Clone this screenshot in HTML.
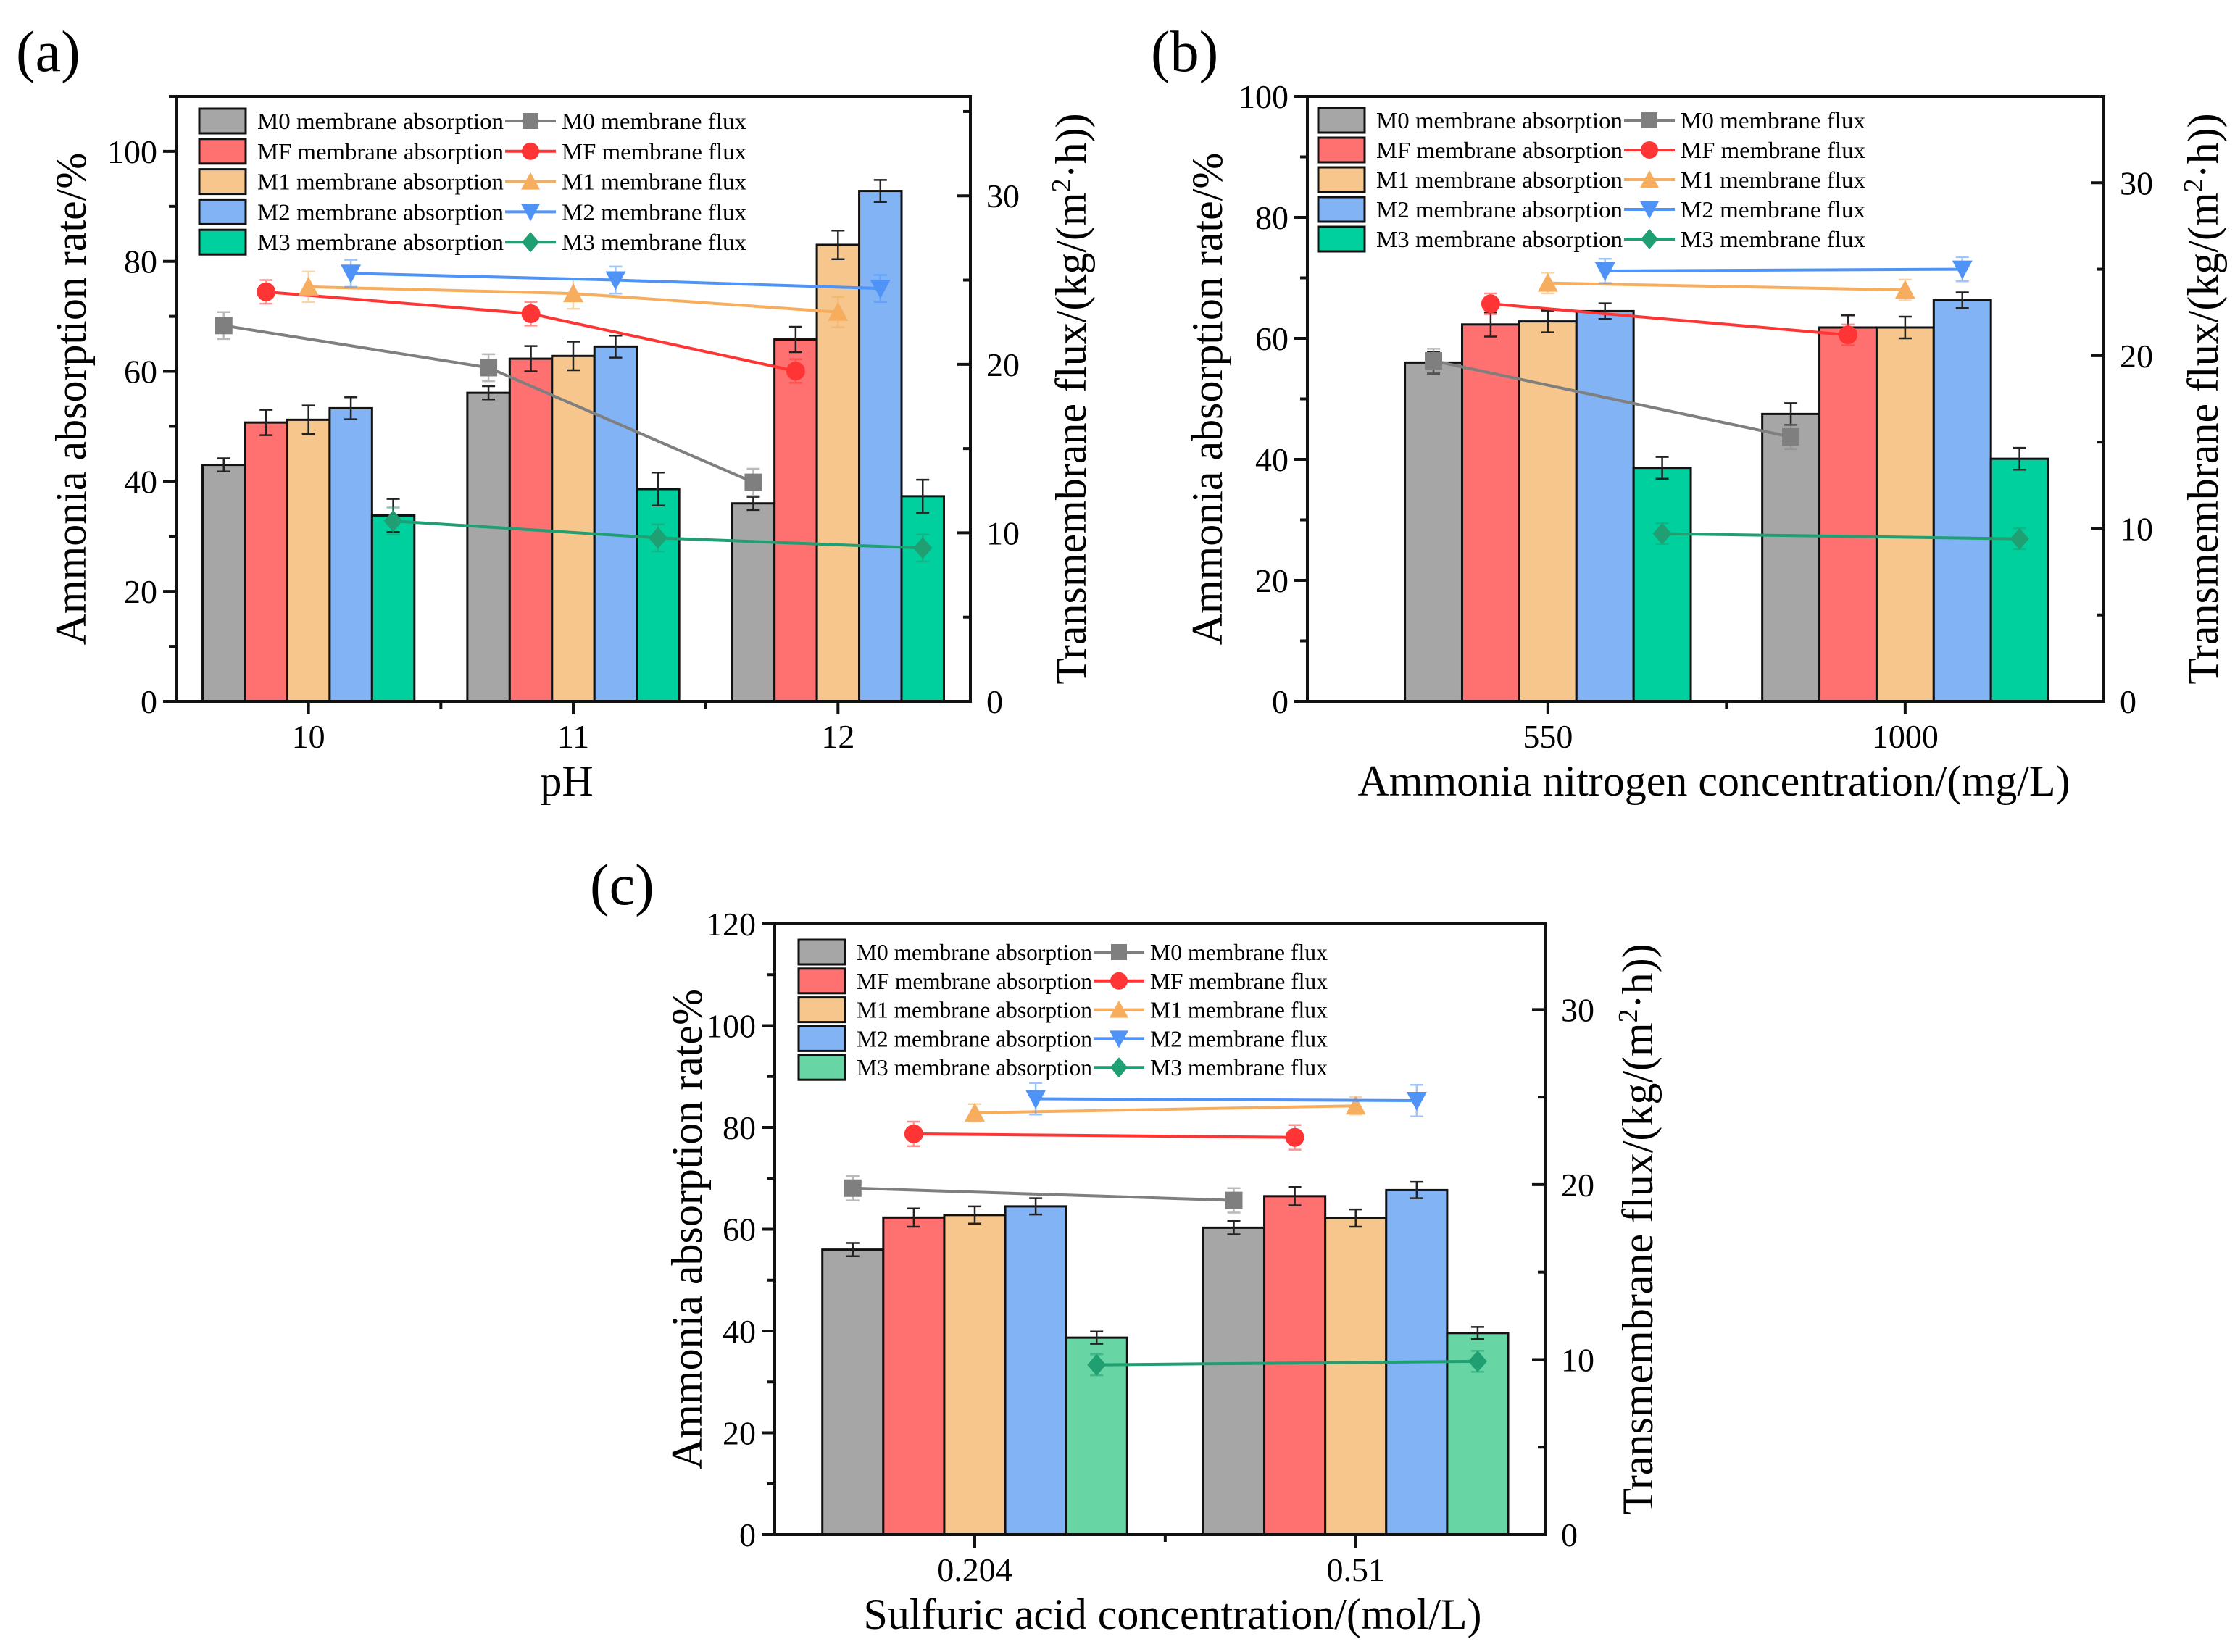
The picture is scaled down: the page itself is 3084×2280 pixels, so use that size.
<!DOCTYPE html>
<html><head><meta charset="utf-8"><style>
html,body{margin:0;padding:0;background:#fff;}
svg{display:block;font-family:"Liberation Serif",serif;}
</style></head><body>
<svg id="fig" xmlns="http://www.w3.org/2000/svg" width="3084" height="2280" viewBox="0 0 3084 2280">
<rect width="3084" height="2280" fill="#fff"/>
<text x="22" y="98" font-size="80">(a)</text>
<text x="1588" y="98" font-size="80">(b)</text>
<text x="814" y="1248" font-size="80">(c)</text>
</svg>
<script>
// ---------- Panel (a) data ----------
const aCats = ["10","11","12"];
const aM0 = [43.0, 56.1, 36.0];
const aMF = [50.7, 62.3, 65.8];
const aM1 = [51.2, 62.8, 83.0];
const aM2 = [53.3, 64.5, 92.8];
const aM3 = [33.8, 38.6, 37.3];
const aAbsErr = [1.2, 2.3, 2.6, 2.0, 3.0];
const aFluxM0 = [22.3, 19.8, 13.0];
const aFluxMF = [24.3, 23.0, 19.6];
const aFluxM1 = [24.6, 24.2, 23.1];
const aFluxM2 = [25.4, 25.0, 24.5];
const aFluxM3 = [10.7, 9.7, 9.1];
const aFluxErr = [0.8, 0.7, 0.9, 0.8, 0.8];
const aLeftTicks = [0,20,40,60,80,100];
const aRightTicks = [0,10,20,30];
// ---------- Panel (b) data ----------
const bCats = ["550","1000"];
const bM0 = [56.0, 47.5];
const bMF = [62.3, 61.8];
const bM1 = [62.8, 61.8];
const bM2 = [64.5, 66.3];
const bM3 = [38.6, 40.1];
const bAbsErr = [1.8, 2.0, 1.8, 1.3, 1.8];
const bFluxM0 = [19.7, 15.3];
const bFluxMF = [23.0, 21.2];
const bFluxM1 = [24.2, 23.8];
const bFluxM2 = [24.9, 25.0];
const bFluxM3 = [9.7, 9.4];
const bFluxErr = [0.7, 0.6, 0.6, 0.7, 0.6];
const bLeftTicks = [0,20,40,60,80,100];
const bRightTicks = [0,10,20,30];
// ---------- Panel (c) data ----------
const cCats = ["0.204","0.51"];
const cM0 = [56.0, 60.3];
const cMF = [62.3, 66.5];
const cM1 = [62.8, 62.2];
const cM2 = [64.5, 67.7];
const cM3 = [38.7, 39.6];
const cAbsErr = [1.3, 1.8, 1.7, 1.6, 1.2];
const cFluxM0 = [19.8, 19.1];
const cFluxMF = [22.9, 22.7];
const cFluxM1 = [24.1, 24.5];
const cFluxM2 = [24.9, 24.8];
const cFluxM3 = [9.7, 9.9];
const cFluxErr = [0.7, 0.7, 0.5, 0.9, 0.6];
const cLeftTicks = [0,20,40,60,80,100,120];
const cRightTicks = [0,10,20,30];

const seriesNames = ["M0","MF","M1","M2","M3"];
const NS = "http://www.w3.org/2000/svg";
const svg = document.getElementById('fig');
function mk(tag, attrs, parent){
  const e = document.createElementNS(NS, tag);
  for (const k in attrs) e.setAttribute(k, attrs[k]);
  parent.appendChild(e);
  return e;
}

function panel(id, cfg){
  const g = mk('g', {}, svg);
  
  
  const L=cfg.L, R=cfg.R, T=cfg.T, B=cfg.B;
  const x = v => L + (v - cfg.x0) / (cfg.x1 - cfg.x0) * (R - L);
  const yl = v => B - v / cfg.leftMax * (B - T);
  const yr = v => B - v / cfg.rightMax * (B - T);
  const bw = 0.16;
  const bwPx = x(bw) - x(0);
  cfg.abs.forEach((arr, k) => {
    arr.forEach((v, i) => {
      const cx = x(i + (k - 2) * bw);
      const r = mk('rect', {x: cx - bwPx/2, y: yl(v), width: bwPx, height: B - yl(v), fill: cfg.barColors[k], stroke: '#111', 'stroke-width': 3}, g);
      
      
      const e = cfg.absErr[k];
      const eb = mk('path', {d: `M${cx} ${yl(v+e)}V${yl(v-e)}M${cx-9} ${yl(v+e)}H${cx+9}M${cx-9} ${yl(v-e)}H${cx+9}`, stroke: '#222', 'stroke-width': 2.5, fill: 'none'}, g);
      
      
    });
  });
  cfg.flux.forEach((arr, k) => {
    const pts = arr.map((v, i) => [x(i + (k - 2) * bw), yr(v)]);
    const ln = mk('polyline', {points: pts.map(p => p.join(',')).join(' '), stroke: cfg.lineColors[k], 'stroke-width': 4, fill: 'none'}, g);
    
    
    arr.forEach((v, i) => {
      const [px, py] = pts[i];
      const e = cfg.fluxErr[k];
      const eb = mk('path', {d: `M${px} ${yr(v+e)}V${yr(v-e)}M${px-9} ${yr(v+e)}H${px+9}M${px-9} ${yr(v-e)}H${px+9}`, stroke: cfg.lineColors[k], 'stroke-width': 2.5, fill: 'none', opacity: 0.55}, g);
      
      
      const m = marker(g, k, px, py, cfg.lineColors[k], 12);
      
      
    });
  });
  const fr = mk('rect', {x: L, y: T, width: R - L, height: B - T, fill: 'none', stroke: '#111', 'stroke-width': 4}, g);
  
  
  const lstep = cfg.leftTicks[1] - cfg.leftTicks[0];
  for (let v = 0; v <= cfg.leftMax + 0.001; v += lstep / 2) {
    const major = Math.abs(v / lstep - Math.round(v / lstep)) < 0.01;
    mk('line', {x1: L, x2: L - (major ? 18 : 10), y1: yl(v), y2: yl(v), stroke: '#111', 'stroke-width': 4}, g);
  }
  cfg.leftTicks.forEach(v => {
    const t = mk('text', {x: L - 26, y: yl(v) + 16, 'font-size': 46, 'text-anchor': 'end'}, g);
    t.textContent = v;
    
    
  });
  for (let v = 0; v <= cfg.rightMax + 0.001; v += 5) {
    const major = v % 10 === 0;
    mk('line', {x1: R, x2: R - (major ? 18 : 10), y1: yr(v), y2: yr(v), stroke: '#111', 'stroke-width': 4}, g);
  }
  cfg.rightTicks.forEach(v => {
    const t = mk('text', {x: R + 22, y: yr(v) + 16, 'font-size': 46}, g);
    t.textContent = v;
    
    
  });
  cfg.cats.forEach((c, i) => {
    mk('line', {x1: x(i), x2: x(i), y1: B, y2: B + 18, stroke: '#111', 'stroke-width': 4}, g);
    const t = mk('text', {x: x(i), y: B + 64, 'font-size': 46, 'text-anchor': 'middle'}, g);
    t.textContent = c;
    
    
    if (i < cfg.cats.length - 1) mk('line', {x1: x(i + 0.5), x2: x(i + 0.5), y1: B, y2: B + 10, stroke: '#111', 'stroke-width': 4}, g);
  });
  const xt = mk('text', {x: cfg.xTitleX, y: B + 130, 'font-size': 60, 'text-anchor': 'middle'}, g);
  xt.textContent = cfg.xTitle;
  
  
  const ly = (T + B) / 2;
  const yt = mk('text', {x: 0, y: 0, 'font-size': 60, 'text-anchor': 'middle', transform: `translate(${cfg.yTitleX},${ly}) rotate(-90)`}, g);
  yt.textContent = cfg.yTitle;
  
  
  const rt = mk('text', {x: 0, y: 0, 'font-size': 60, 'text-anchor': 'middle', transform: `translate(${cfg.rTitleX},${ly}) rotate(-90)`}, g);
  
  
  const s1 = mk('tspan', {}, rt); s1.textContent = 'Transmembrane flux/(kg/(m';
  const s2 = mk('tspan', {'baseline-shift': 'super', 'font-size': 38}, rt); s2.textContent = '2';
  const s3 = mk('tspan', {}, rt); s3.textContent = '·h))';
  const lg = mk('g', {}, g);
  
  
  seriesNames.forEach((n, k) => {
    const cy = cfg.legY + k * cfg.legDy;
    const bx = mk('rect', {x: cfg.legX, y: cy - 17, width: 64, height: 34, fill: cfg.barColors[k], stroke: '#111', 'stroke-width': 3}, lg);
    
    
    const t1 = mk('text', {x: cfg.legX + 80, y: cy + 11, 'font-size': 32, textLength: cfg.t1Len, lengthAdjust: 'spacingAndGlyphs'}, lg);
    t1.textContent = n + ' membrane absorption';
    
    
    const lx0 = cfg.legX + 80 + cfg.t1Len + 2, lx1 = lx0 + 70;
    mk('line', {x1: lx0, x2: lx1, y1: cy, y2: cy, stroke: cfg.lineColors[k], 'stroke-width': 4}, lg);
    marker(lg, k, (lx0 + lx1) / 2, cy, cfg.lineColors[k], 11);
    const t2 = mk('text', {x: lx1 + 8, y: cy + 11, 'font-size': 32, textLength: cfg.t2Len, lengthAdjust: 'spacingAndGlyphs'}, lg);
    t2.textContent = n + ' membrane flux';
    
    
  });
}
function marker(g, k, x, y, col, r){
  let d;
  if (k === 0) return mk('rect', {x: x - r, y: y - r, width: 2*r, height: 2*r, fill: col}, g);
  if (k === 1) return mk('circle', {cx: x, cy: y, r: r + 1, fill: col}, g);
  if (k === 2) d = `M${x} ${y-r-2}L${x+r+2} ${y+r}L${x-r-2} ${y+r}Z`;
  if (k === 3) d = `M${x-r-2} ${y-r}L${x+r+2} ${y-r}L${x} ${y+r+2}Z`;
  if (k === 4) d = `M${x} ${y-r-3}L${x+r+1} ${y}L${x} ${y+r+3}L${x-r-1} ${y}Z`;
  return mk('path', {d: d, fill: col}, g);
}
const lineCols = ['#7f7f7f','#ff3535','#f6ae5e','#4f93f7','#1f9f72'];
panel('panel-a', {L:243, R:1339, T:133, B:968, x0:-0.5, x1:2.5, leftMax:110, rightMax:35.9,
  cats:aCats, abs:[aM0,aMF,aM1,aM2,aM3], absErr:aAbsErr, flux:[aFluxM0,aFluxMF,aFluxM1,aFluxM2,aFluxM3], fluxErr:aFluxErr,
  leftTicks:aLeftTicks, rightTicks:aRightTicks,
  barColors:['#a6a6a6','#ff7070','#f6c68c','#81b3f5','#00d09e'], lineColors:lineCols,
  xTitle:'pH', xTitleX:782, yTitleX:118, rTitleX:1498, yTitle:'Ammonia absorption rate/%',
  legX:275, legY:167, legDy:41.8, t1Len:340, t2Len:255});
panel('panel-b', {L:1804, R:2903, T:133, B:968, x0:-0.673, x1:1.556, leftMax:100, rightMax:35.0,
  cats:bCats, abs:[bM0,bMF,bM1,bM2,bM3], absErr:bAbsErr, flux:[bFluxM0,bFluxMF,bFluxM1,bFluxM2,bFluxM3], fluxErr:bFluxErr,
  leftTicks:bLeftTicks, rightTicks:bRightTicks,
  barColors:['#a6a6a6','#ff7070','#f6c68c','#81b3f5','#00d09e'], lineColors:lineCols,
  xTitle:'Ammonia nitrogen concentration/(mg/L)', xTitleX:2365, yTitleX:1686, rTitleX:3060, yTitle:'Ammonia absorption rate/%',
  legX:1819, legY:166, legDy:41, t1Len:340, t2Len:255});
panel('panel-c', {L:1069, R:2132, T:1275, B:2118, x0:-0.525, x1:1.497, leftMax:120, rightMax:34.9,
  cats:cCats, abs:[cM0,cMF,cM1,cM2,cM3], absErr:cAbsErr, flux:[cFluxM0,cFluxMF,cFluxM1,cFluxM2,cFluxM3], fluxErr:cFluxErr,
  leftTicks:cLeftTicks, rightTicks:cRightTicks,
  barColors:['#a6a6a6','#ff7070','#f6c68c','#81b3f5','#68d5a5'], lineColors:lineCols,
  xTitle:'Sulfuric acid concentration/(mol/L)', xTitleX:1618, yTitleX:968, rTitleX:2280, yTitle:'Ammonia absorption rate%',
  legX:1102, legY:1314, legDy:39.8, t1Len:325, t2Len:245});
</script>
</body></html>
